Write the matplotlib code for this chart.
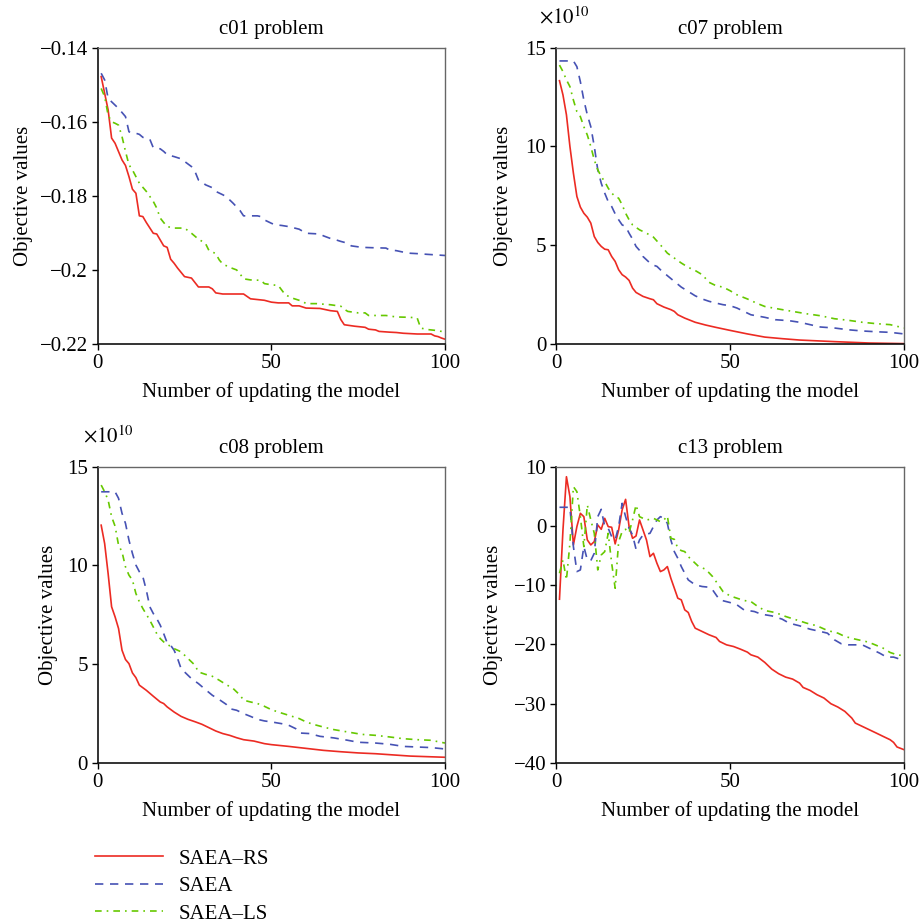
import matplotlib
matplotlib.use("Agg")
import matplotlib.pyplot as plt
from matplotlib.ticker import FixedLocator, FuncFormatter

plt.rcParams['font.family'] = ['Liberation Serif', 'DejaVu Serif']
plt.rcParams['mathtext.fontset'] = 'stix'
plt.rcParams['axes.unicode_minus'] = True

labels = ["SAEA–RS", "SAEA", "SAEA–LS"]
titles = ["c01 problem", "c07 problem", "c08 problem", "c13 problem"]
xlabel = "Number of updating the model"
ylabel = "Objective values"

# ---------------- c01 ----------------
c01_rs_x = [1, 3, 4, 5, 7, 8, 9, 10, 11, 12, 13, 14, 16, 17, 18, 19, 20, 21, 22, 23, 25, 26, 27, 29, 32, 33, 34, 36, 42, 44, 46, 48, 50, 52, 55, 56, 58, 60, 64, 67, 69, 70, 71, 74, 77, 78, 80, 81, 84, 86, 88, 92, 96, 97, 98, 99, 100]
c01_rs_y = [-0.1478, -0.1568, -0.1644, -0.1658, -0.1703, -0.1718, -0.1748, -0.1782, -0.1793, -0.1854, -0.1856, -0.1872, -0.1901, -0.1903, -0.1919, -0.1935, -0.1939, -0.1971, -0.1982, -0.1995, -0.2018, -0.2020, -0.2022, -0.2046, -0.2046, -0.2051, -0.2062, -0.2065, -0.2065, -0.2078, -0.2080, -0.2082, -0.2087, -0.2089, -0.2089, -0.2097, -0.2097, -0.2103, -0.2104, -0.2110, -0.2112, -0.2134, -0.2148, -0.2152, -0.2155, -0.2160, -0.2162, -0.2166, -0.2168, -0.2169, -0.2171, -0.2173, -0.2173, -0.2178, -0.2180, -0.2184, -0.2187]
c01_saea_x = [1, 2, 3, 4, 6, 8, 9, 10, 11, 12, 13, 15, 16, 18, 19, 20, 22, 24, 25, 27, 28, 29, 30, 31, 33, 34, 36, 37, 38, 39, 41, 42, 44, 46, 47, 48, 50, 51, 53, 55, 58, 60, 64, 65, 67, 68, 70, 72, 73, 76, 79, 83, 84, 86, 88, 90, 92, 95, 100]
c01_saea_y = [-0.1469, -0.1487, -0.1537, -0.1546, -0.1564, -0.1586, -0.1627, -0.1631, -0.1631, -0.1634, -0.1642, -0.1647, -0.1670, -0.1673, -0.1680, -0.1689, -0.1694, -0.1700, -0.1707, -0.1721, -0.1734, -0.1757, -0.1761, -0.1770, -0.1778, -0.1788, -0.1797, -0.1802, -0.1811, -0.1820, -0.1840, -0.1854, -0.1854, -0.1854, -0.1856, -0.1865, -0.1874, -0.1878, -0.1880, -0.1883, -0.1890, -0.1901, -0.1903, -0.1908, -0.1915, -0.1917, -0.1923, -0.1928, -0.1935, -0.1939, -0.1940, -0.1941, -0.1946, -0.1948, -0.1952, -0.1955, -0.1956, -0.1958, -0.1961]
c01_ls_x = [1, 2, 3, 4, 5, 6, 7, 8, 9, 10, 11, 12, 14, 16, 17, 18, 19, 20, 22, 25, 27, 29, 31, 32, 34, 35, 36, 38, 40, 41, 42, 44, 47, 48, 50, 52, 54, 56, 57, 59, 60, 63, 67, 70, 71, 72, 75, 77, 78, 83, 86, 90, 92, 93, 95, 97, 99, 100]
c01_ls_y = [-0.1510, -0.1532, -0.1582, -0.1600, -0.1604, -0.1609, -0.1640, -0.1680, -0.1716, -0.1730, -0.1748, -0.1766, -0.1788, -0.1815, -0.1833, -0.1860, -0.1872, -0.1883, -0.1887, -0.1887, -0.1901, -0.1917, -0.1928, -0.1947, -0.1956, -0.1973, -0.1984, -0.1993, -0.2000, -0.2011, -0.2024, -0.2027, -0.2028, -0.2037, -0.2040, -0.2042, -0.2067, -0.2076, -0.2079, -0.2085, -0.2091, -0.2091, -0.2094, -0.2098, -0.2106, -0.2112, -0.2116, -0.2116, -0.2123, -0.2123, -0.2127, -0.2128, -0.2130, -0.2157, -0.2161, -0.2163, -0.2166, -0.2168]

# ---------------- c07 (x 1e10) ----------------
c07_rs_x = [1, 2, 3, 4, 5, 6, 7, 8, 9, 10, 11, 12, 13, 14, 15, 16, 17, 18, 19, 20, 21, 22, 23, 25, 27, 28, 29, 31, 33, 34, 35, 37, 40, 43, 46, 50, 55, 60, 65, 70, 80, 90, 100]
c07_rs_y = [13.33, 12.61, 11.6, 10.0, 8.65, 7.47, 6.93, 6.62, 6.42, 6.12, 5.44, 5.14, 4.94, 4.80, 4.77, 4.43, 4.18, 3.76, 3.51, 3.39, 3.22, 2.83, 2.61, 2.41, 2.29, 2.24, 2.04, 1.87, 1.74, 1.65, 1.48, 1.31, 1.10, 0.96, 0.84, 0.69, 0.51, 0.35, 0.27, 0.20, 0.12, 0.05, 0.02]
c07_saea_x = [1, 5, 6, 7, 8, 9, 10, 11, 12, 13, 14, 15, 16, 17, 18, 19, 20, 21, 22, 23, 24, 25, 27, 28, 29, 30, 32, 34, 36, 38, 40, 42, 44, 46, 48, 50, 52, 54, 56, 60, 63, 67, 70, 73, 76, 80, 84, 88, 92, 96, 100]
c07_saea_y = [14.33, 14.33, 14.04, 13.28, 12.35, 11.6, 11.0, 10.0, 8.82, 8.14, 7.64, 7.21, 6.96, 6.59, 6.29, 6.03, 5.95, 5.61, 5.31, 4.94, 4.74, 4.43, 4.10, 3.99, 3.93, 3.76, 3.46, 3.17, 2.88, 2.66, 2.44, 2.28, 2.16, 2.07, 1.99, 1.94, 1.82, 1.65, 1.48, 1.35, 1.23, 1.18, 1.10, 0.98, 0.86, 0.81, 0.72, 0.66, 0.62, 0.59, 0.51]
c07_ls_x = [1, 2, 3, 4, 5, 6, 7, 8, 9, 10, 11, 12, 13, 14, 15, 16, 17, 18, 19, 20, 21, 22, 24, 26, 28, 30, 32, 34, 36, 38, 40, 42, 44, 46, 48, 50, 52, 55, 58, 60, 64, 68, 72, 76, 80, 84, 88, 92, 96, 100]
c07_ls_y = [14.12, 13.79, 13.37, 13.03, 12.35, 11.76, 11.51, 11.0, 10.58, 10.0, 9.32, 8.82, 8.48, 8.22, 7.89, 7.64, 7.47, 7.38, 7.05, 6.62, 6.29, 6.03, 5.78, 5.61, 5.41, 5.02, 4.60, 4.35, 4.10, 3.88, 3.72, 3.51, 3.12, 2.95, 2.88, 2.70, 2.49, 2.28, 2.04, 1.90, 1.77, 1.65, 1.53, 1.43, 1.28, 1.20, 1.10, 1.03, 0.98, 0.81]

# ---------------- c08 (x 1e10) ----------------
c08_rs_x = [1, 2, 3, 4, 5, 6, 7, 8, 9, 10, 11, 12, 14, 16, 18, 19, 20, 22, 24, 26, 28, 30, 32, 34, 36, 38, 40, 42, 45, 48, 50, 55, 60, 65, 70, 75, 80, 85, 90, 95, 100]
c08_rs_y = [12.04, 11.11, 9.59, 7.91, 7.40, 6.81, 5.71, 5.24, 5.03, 4.56, 4.32, 3.94, 3.68, 3.38, 3.09, 3.01, 2.84, 2.58, 2.36, 2.21, 2.09, 1.96, 1.79, 1.62, 1.49, 1.40, 1.28, 1.18, 1.11, 0.98, 0.93, 0.84, 0.74, 0.64, 0.57, 0.51, 0.47, 0.41, 0.35, 0.32, 0.29]
c08_saea_x = [1, 5, 6, 7, 8, 9, 10, 11, 12, 13, 14, 15, 16, 17, 18, 19, 20, 21, 22, 23, 24, 25, 27, 29, 31, 33, 35, 37, 38, 40, 42, 44, 46, 48, 50, 53, 55, 57, 58, 61, 64, 68, 72, 75, 80, 84, 88, 92, 96, 100]
c08_saea_y = [13.73, 13.73, 13.40, 12.64, 12.13, 11.28, 10.61, 10.02, 9.68, 9.43, 8.75, 7.91, 7.57, 7.31, 6.98, 6.55, 6.08, 5.96, 5.71, 5.29, 4.78, 4.61, 4.27, 4.02, 3.72, 3.43, 3.21, 2.97, 2.75, 2.67, 2.50, 2.36, 2.21, 2.13, 2.08, 1.99, 1.91, 1.74, 1.52, 1.49, 1.35, 1.27, 1.15, 1.05, 1.01, 0.95, 0.84, 0.81, 0.78, 0.71]
c08_ls_x = [1, 2, 3, 4, 5, 6, 7, 8, 9, 10, 11, 12, 13, 14, 15, 16, 17, 18, 19, 20, 22, 24, 26, 28, 29, 31, 33, 35, 37, 39, 41, 42, 44, 46, 48, 50, 52, 54, 56, 58, 60, 62, 65, 68, 72, 76, 80, 84, 88, 92, 96, 100]
c08_ls_y = [14.07, 13.73, 13.31, 12.47, 11.99, 11.03, 10.69, 9.93, 9.51, 9.26, 8.58, 8.16, 7.82, 7.53, 7.23, 6.89, 6.55, 6.30, 6.13, 6.01, 5.79, 5.63, 5.29, 4.95, 4.61, 4.49, 4.39, 4.19, 3.97, 3.77, 3.43, 3.18, 3.09, 3.01, 2.87, 2.70, 2.58, 2.47, 2.36, 2.25, 2.08, 1.96, 1.82, 1.69, 1.57, 1.45, 1.40, 1.32, 1.23, 1.18, 1.15, 1.01]

# ---------------- c13 ----------------
c13_rs_x = [1, 2, 3, 4, 5, 6, 7, 8, 9, 10, 11, 12, 13, 14, 15, 16, 17, 18, 19, 20, 21, 22, 23, 24, 25, 26, 27, 28, 29, 30, 31, 32, 33, 34, 35, 36, 37, 38, 39, 40, 42, 44, 46, 47, 49, 51, 53, 55, 56, 58, 60, 62, 64, 66, 68, 70, 71, 73, 75, 77, 79, 81, 83, 85, 86, 88, 90, 92, 94, 96, 97, 98, 100]
c13_rs_y = [-12.36, -0.67, 8.31, 4.94, -3.2, -0.11, 2.13, 1.57, -2.36, -3.2, -2.64, 0.17, -0.56, 1.29, -0.11, -0.22, -3.03, -0.67, 2.70, 4.49, -0.11, -2.08, -1.69, 1.01, -0.67, -2.36, -5.17, -4.61, -6.29, -7.70, -7.42, -6.85, -8.82, -10.5, -12.19, -12.47, -14.16, -14.6, -16.12, -17.25, -17.81, -18.37, -18.82, -19.49, -20.06, -20.34, -20.79, -21.29, -21.74, -22.13, -23.03, -24.16, -24.94, -25.51, -25.84, -26.52, -27.25, -27.75, -28.48, -29.04, -30.0, -30.56, -31.29, -32.42, -33.26, -33.82, -34.38, -34.94, -35.51, -36.07, -36.52, -37.30, -37.75]
c13_saea_x = [1, 4, 5, 6, 7, 8, 9, 10, 11, 12, 13, 14, 15, 16, 17, 18, 19, 20, 21, 22, 23, 24, 25, 27, 28, 29, 30, 31, 32, 33, 34, 35, 36, 37, 38, 40, 42, 44, 45, 47, 50, 52, 54, 57, 59, 62, 65, 67, 70, 73, 76, 78, 80, 82, 84, 88, 90, 93, 95, 97, 100]
c13_saea_y = [3.15, 3.15, -3.48, -7.70, -7.42, -3.48, -5.73, -5.84, -4.61, 1.57, 2.81, -0.11, -0.39, -1.80, -2.36, -0.11, 3.82, 1.57, -0.39, -1.52, -3.93, -2.36, -1.52, -1.24, -0.11, 1.01, 1.57, 1.29, 0.45, -2.36, -4.33, -5.45, -6.85, -7.98, -9.10, -9.94, -10.22, -10.34, -10.79, -12.47, -12.92, -13.31, -14.16, -14.44, -14.89, -15.17, -15.73, -16.40, -16.85, -17.42, -17.81, -18.09, -19.21, -19.89, -20.06, -20.06, -20.62, -21.46, -22.13, -22.13, -22.70]
c13_ls_x = [1, 2, 3, 4, 5, 6, 7, 8, 9, 10, 11, 12, 13, 14, 15, 16, 17, 18, 19, 20, 21, 22, 23, 24, 25, 26, 27, 28, 29, 30, 31, 32, 33, 34, 35, 36, 37, 38, 39, 41, 43, 45, 47, 48, 50, 52, 54, 56, 58, 60, 63, 66, 69, 72, 75, 78, 81, 83, 86, 89, 91, 94, 96, 98, 100]
c13_ls_y = [-7.98, -5.73, -9.10, -2.92, 6.63, 5.79, 1.57, -3.48, 3.54, 1.01, -1.24, -7.42, -4.89, -4.33, -1.24, -6.29, -10.51, -2.64, -0.96, -0.56, -1.12, 1.01, 3.54, 1.57, 1.29, 1.01, 1.12, 1.29, 1.01, 0.73, 1.01, 1.69, -2.08, -2.25, -3.76, -4.16, -4.33, -5.17, -5.73, -6.85, -7.30, -8.54, -10.22, -11.07, -11.80, -12.19, -12.58, -12.75, -13.60, -14.27, -14.61, -15.28, -15.84, -16.40, -16.85, -17.64, -18.09, -18.65, -19.10, -19.49, -19.89, -20.62, -21.35, -21.74, -21.91]

panels = [
    dict(series=[(c01_rs_x, c01_rs_y), (c01_saea_x, c01_saea_y), (c01_ls_x, c01_ls_y)],
         ylim=(-0.22, -0.14), yticks=[-0.22, -0.20, -0.18, -0.16, -0.14], offset=False),
    dict(series=[(c07_rs_x, c07_rs_y), (c07_saea_x, c07_saea_y), (c07_ls_x, c07_ls_y)],
         ylim=(0, 15), yticks=[0, 5, 10, 15], offset=True),
    dict(series=[(c08_rs_x, c08_rs_y), (c08_saea_x, c08_saea_y), (c08_ls_x, c08_ls_y)],
         ylim=(0, 15), yticks=[0, 5, 10, 15], offset=True),
    dict(series=[(c13_rs_x, c13_rs_y), (c13_saea_x, c13_saea_y), (c13_ls_x, c13_ls_y)],
         ylim=(-40, 10), yticks=[-40, -30, -20, -10, 0, 10], offset=False),
]
xticks = [0, 50, 100]

colors = ['#ec2b23', '#4652b4', '#66c800']
styles = [dict(linestyle='-'), dict(dashes=(5, 4)), dict(dashes=(4, 3, 1, 3))]

W = 922.0
rects = [(97.7, 47.7, 445, 344), (556, 47.7, 904, 344),
         (97.7, 466.7, 445, 763), (556, 466.7, 904, 763)]
ylab_x = [-0.186, -0.124, -0.114, -0.153]
off_pos = [None, (-0.049, 1.137), (-0.042, 1.14), None]

fig = plt.figure(figsize=(9.22, 9.22), dpi=100)
FS = 15

def fmt(v, pos):
    s = ('%.2f' % v).rstrip('0').rstrip('.') if abs(v) < 1 else '%g' % v
    if s in ('-0', '0.'):
        s = '0'
    return s.replace('-', '\u2212')

handles = []
for i, (p, r) in enumerate(zip(panels, rects)):
    l, t, rr, b = r
    ax = fig.add_axes([l / W, 1 - b / W, (rr - l) / W, (b - t) / W])
    for (xs, ys), c, st in zip(p['series'], colors, styles):
        ln, = ax.plot(xs, ys, color=c, lw=1.2, **st)
        if i == 0:
            handles.append(ln)
    ax.set_xlim(0, 100)
    ax.set_ylim(*p['ylim'])
    ax.xaxis.set_major_locator(FixedLocator(xticks))
    ax.yaxis.set_major_locator(FixedLocator(p['yticks']))
    ax.yaxis.set_major_formatter(FuncFormatter(fmt))
    ax.xaxis.set_major_formatter(FuncFormatter(lambda v, pos: '%d' % v))
    ax.tick_params(direction='out', length=4, width=1, labelsize=FS, pad=3,
                   top=False, right=False)
    for s in ['left', 'bottom']:
        ax.spines[s].set_color('#111111')
        ax.spines[s].set_linewidth(1.2)
    for s in ['top', 'right']:
        ax.spines[s].set_color('#666666')
        ax.spines[s].set_linewidth(1.0)
    ax.set_title(titles[i], fontsize=FS, pad=10)
    ax.set_xlabel(xlabel, fontsize=FS)
    ax.set_ylabel(ylabel, fontsize=FS)
    ax.xaxis.set_label_coords(0.5, -0.128)
    ax.yaxis.set_label_coords(ylab_x[i], 0.5)
    if p['offset']:
        ox, oy = off_pos[i]
        ax.text(ox, oy, r'$\times10^{10}$', transform=ax.transAxes,
                fontsize=FS, ha='left', va='top')

fig.legend(handles, labels, loc='upper left', bbox_to_anchor=(0.083, 0.0996),
           frameon=False, fontsize=FS, handlelength=3.27, handletextpad=0.72,
           labelspacing=0.38, borderpad=0.4)

fig.savefig('out.png', dpi=100)
